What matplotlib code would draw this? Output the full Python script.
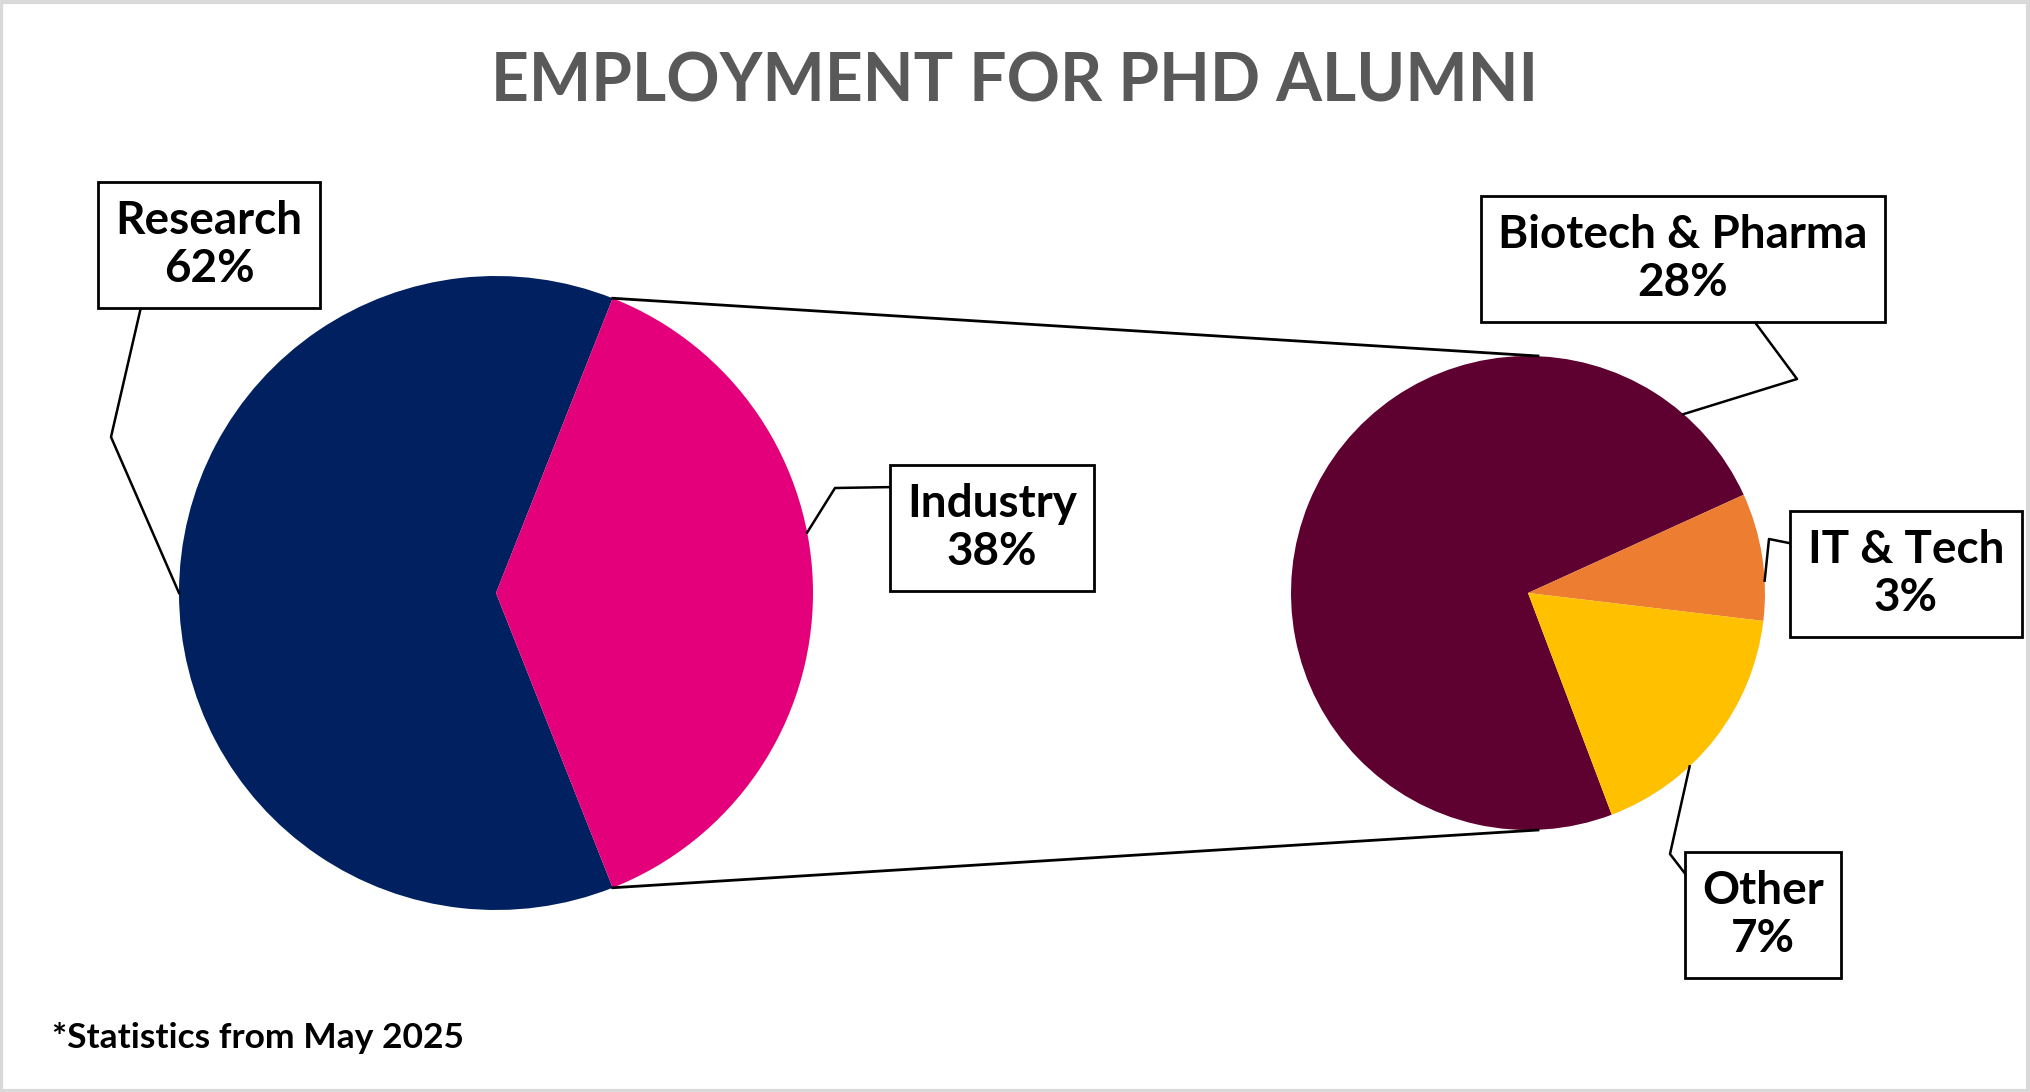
import numpy as np
import matplotlib
matplotlib.use("Agg")
import matplotlib.pyplot as plt
from matplotlib.patches import Rectangle

# Datos
main_labels = ["Research", "Industry"]
main_values = [62, 38]
main_colors = ["#002060", "#E3007A"]

sub_labels = ["Biotech & Pharma", "IT & Tech", "Other"]
sub_values = [28.1, 3.3, 6.6]
sub_colors = ["#5E0030", "#ED7D31", "#FFC000"]

title = "EMPLOYMENT FOR PHD ALUMNI"
footnote = "*Statistics from May 2025"

W, H = 2030, 1092
FONT = "Lato"

fig = plt.figure(figsize=(W / 100, H / 100), dpi=100)
ax = fig.add_axes([0, 0, 1, 1])

# geometria (pixeles, y hacia arriba)
c1, r1 = (496, H - 593), 317
c2, r2 = (1528, H - 593), 237

# pie principal: Industry centrada a la derecha
ind_span = 360 * main_values[1] / sum(main_values)
w1, _ = ax.pie(main_values, colors=main_colors, center=c1, radius=r1,
               startangle=ind_span / 2, counterclock=True,
               wedgeprops=dict(linewidth=0))

# pie secundario
w2, _ = ax.pie(sub_values, colors=sub_colors, center=c2, radius=r2,
               startangle=-69.3 + 360, counterclock=False,
               wedgeprops=dict(linewidth=0))

ax.set_xlim(0, W)
ax.set_ylim(0, H)
ax.set_aspect("equal")
ax.axis("off")


def rim(c, r, ang):
    a = np.deg2rad(ang)
    return c[0] + r * np.cos(a), c[1] + r * np.sin(a)


# lineas de conexion entre pies
ind = w1[1]
p_top = rim(c1, r1, ind.theta2)
p_bot = rim(c1, r1, ind.theta1)
q_top = (c2[0] + 10, c2[1] + r2)
q_bot = (c2[0] + 10, c2[1] - r2)
ax.plot([p_top[0], q_top[0]], [p_top[1], q_top[1]], color="black", lw=2, zorder=1)
ax.plot([p_bot[0], q_bot[0]], [p_bot[1], q_bot[1]], color="black", lw=2, zorder=1)

# etiquetas: (centro del texto, angulo de anclaje, codo, punto en caja)
label_layout = [
    (c1, r1, main_labels[0], main_values[0], (209, 245), 180, (111, 437), (141, 307)),
    (c1, r1, main_labels[1], main_values[1], (992, 528), 11, (835, 488), (896, 487)),
    (c2, r2, sub_labels[0], sub_values[0], (1683, 259), 49, (1797, 379), (1754, 321)),
    (c2, r2, sub_labels[1], sub_values[1], (1906, 574), 3, (1769, 539), (1794, 544)),
    (c2, r2, sub_labels[2], sub_values[2], (1763, 915), -47, (1670, 854), (1690, 880)),
]

for c, r, lab, val, tc, ang, elbow, boxpt in label_layout:
    tx, ty = tc[0], H - tc[1]
    ax.text(tx, ty, f"{lab}\n{round(val)}%", ha="center", va="center",
            fontsize=33, fontweight="bold", family=FONT, color="black",
            linespacing=1.2, zorder=5,
            bbox=dict(boxstyle="square,pad=0.38", facecolor="white",
                      edgecolor="black", linewidth=2))
    a = rim(c, r, ang)
    xs = [a[0], elbow[0], boxpt[0]]
    ys = [a[1], H - elbow[1], H - boxpt[1]]
    ax.plot(xs, ys, color="black", lw=1.8, zorder=4)

# titulo y nota
ax.text(W / 2, H - 82, title, ha="center", va="center", fontsize=47.5,
        fontweight="bold", family=FONT, color="#595959")
ax.text(52, H - 1038, footnote, ha="left", va="center", fontsize=25.5,
        fontweight="bold", family=FONT, color="black")

# marco
ax.add_patch(Rectangle((1.5, 1.5), W - 3, H - 3, fill=False,
                       edgecolor="#d9d9d9", linewidth=3, zorder=10))

fig.savefig("out.png", dpi=100, facecolor="white")
